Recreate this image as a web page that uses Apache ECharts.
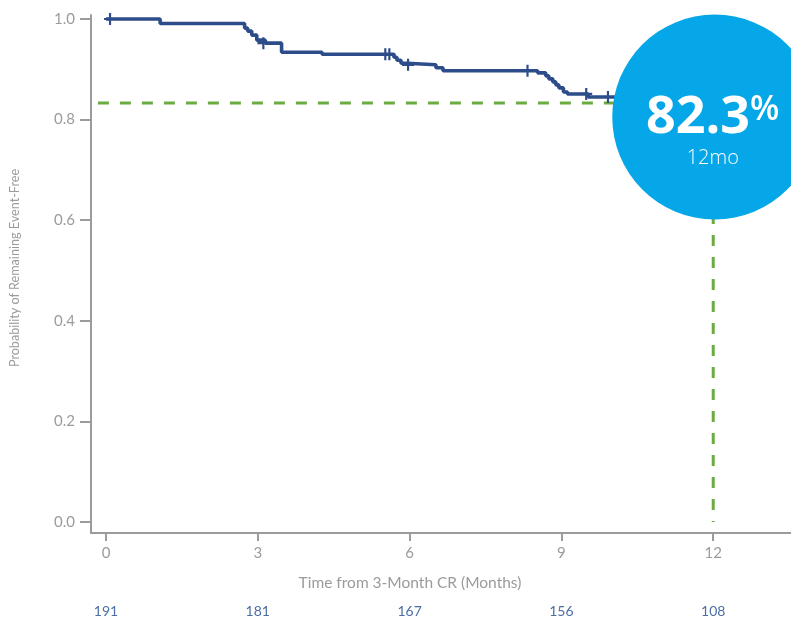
<!DOCTYPE html>
<html>
<head>
<meta charset="utf-8">
<script src="https://cdn.jsdelivr.net/npm/echarts@6/dist/echarts.min.js"></script>
<style>
html,body{margin:0;padding:0;background:#fff;}
#chart{width:791px;height:619px;}
</style>
</head>
<body>
<div id="chart"></div>
<script>
// ---- data ----
const times    = [0, 1.07, 2.74, 2.80, 2.88, 2.98, 3.15, 3.47, 4.27, 5.69, 5.75, 5.83, 5.95, 6.52, 6.66, 8.53, 8.69, 8.75, 8.83, 8.89, 8.95, 9.04, 9.12, 9.53, 10.60, 11.40, 12.30];
const survival = [1.000, 0.991, 0.982, 0.976, 0.968, 0.958, 0.952, 0.934, 0.930, 0.924, 0.918, 0.912, 0.909, 0.903, 0.897, 0.893, 0.887, 0.881, 0.875, 0.869, 0.863, 0.855, 0.851, 0.845, 0.835, 0.823, 0.823];
const censorTimes = [0.08, 3.11, 5.52, 5.60, 5.97, 8.33, 9.49, 9.92];
const censorSurv  = [1.000, 0.952, 0.930, 0.930, 0.909, 0.897, 0.851, 0.845];
const xTicks = [0, 3, 6, 9, 12];
const atRisk = [191, 181, 167, 156, 108];
const yTicks = [0, 0.2, 0.4, 0.6, 0.8, 1.0];
const landmarkMonth = 12;
const landmarkValue = 0.833;
const landmarkStart = -0.16;
const badgeCenter = [12.03, 0.805];
const badgeValue = '82.3';
const badgeUnit = '%';
const badgeLabel = '12mo';
const xTitle = 'Time from 3-Month CR (Months)';
const yTitle = 'Probability of Remaining Event-Free';

// ---- build ----
const kmData = times.map((t, i) => [t, survival[i]]);
const censorData = censorTimes.map((t, i) => [t, censorSurv[i]]);
const gray = '#9b9b9b';
const navy = '#2d4d8a';
const green = '#6cab42';
const font = 'Lato';

const chart = echarts.init(document.getElementById('chart'), null, {renderer: 'canvas'});
chart.setOption({
  animation: false,
  backgroundColor: '#ffffff',
  grid: {left: 89, right: 0, top: 15, bottom: 86, containLabel: false},
  xAxis: [{
    type: 'value', min: -0.296, max: 13.537,
    name: xTitle, nameLocation: 'middle', nameGap: 42,
    nameTextStyle: {color: gray, fontSize: 15.5, fontFamily: font, padding: [0, 62, 0, 0]},
    axisLine: {show: true, onZero: false, lineStyle: {color: gray, width: 2}},
    axisTick: {show: true, inside: false, customValues: xTicks, length: 8, lineStyle: {color: gray, width: 2}},
    axisLabel: {customValues: xTicks, color: gray, fontSize: 15, fontFamily: font, margin: 13},
    splitLine: {show: false}
  }, {
    type: 'value', min: -0.296, max: 13.537, position: 'bottom', offset: 71,
    axisLine: {show: false}, axisTick: {show: false}, splitLine: {show: false},
    axisLabel: {customValues: xTicks, color: '#4d6fa3', fontSize: 14, fontFamily: font, margin: 0,
      formatter: v => { const i = xTicks.indexOf(v); return i >= 0 ? String(atRisk[i]) : ''; }}
  }],
  yAxis: {
    type: 'value', min: -0.022, max: 1.008,
    name: yTitle, nameLocation: 'middle', nameGap: 70,
    nameTextStyle: {color: gray, fontSize: 12.6, fontFamily: font, padding: [0, 0, 0, 12]},
    axisLine: {show: true, onZero: false, lineStyle: {color: gray, width: 2}},
    axisTick: {show: true, inside: false, customValues: yTicks, length: 11, lineStyle: {color: gray, width: 2}},
    axisLabel: {customValues: yTicks, color: gray, fontSize: 15, fontFamily: font, margin: 16,
      formatter: v => v.toFixed(1)},
    splitLine: {show: false}
  },
  series: [
    {
      type: 'line', name: 'landmarkH', z: 1, silent: true, symbol: 'none',
      data: [[landmarkStart, landmarkValue], [landmarkMonth, landmarkValue]],
      lineStyle: {color: green, width: 3, type: [11, 11]}
    },
    {
      type: 'line', name: 'landmarkV', z: 1, silent: true, symbol: 'none',
      data: [[landmarkMonth, landmarkValue], [landmarkMonth, 0]],
      lineStyle: {color: green, width: 3, type: [11, 11]}
    },
    {
      type: 'line', name: 'KM', z: 2, silent: true, step: 'end', symbol: 'none',
      data: kmData, lineStyle: {color: navy, width: 3.6}
    },
    {
      type: 'scatter', name: 'censor', z: 3, silent: true,
      symbol: 'path://M4.5,0h2v4.5h4.5v2h-4.5v4.5h-2v-4.5h-4.5v-2h4.5z', symbolSize: 12,
      itemStyle: {color: navy, opacity: 1}, data: censorData
    },
    {
      type: 'scatter', name: 'badge', z: 10, silent: true, clip: false,
      symbol: 'circle', symbolSize: 205,
      itemStyle: {color: '#05a7e8', opacity: 1},
      data: [badgeCenter],
      label: {
        show: true, position: 'inside', offset: [-2, 16],
        formatter: () => '{big|' + badgeValue + '}{pct|' + badgeUnit + '}\n{sub|' + badgeLabel + '}',
        rich: {
          big: {fontSize: 52, fontWeight: 'bold', color: '#fff', fontFamily: 'Open Sans', lineHeight: 50},
          pct: {fontSize: 34, fontWeight: 600, color: '#fff', fontFamily: 'Open Sans', lineHeight: 50, verticalAlign: 'top', padding: [0,0,14,0]},
          sub: {fontSize: 20, fontWeight: 300, color: '#fff', fontFamily: 'Open Sans', lineHeight: 30, align: 'center'}
        }
      }
    }
  ]
});
</script>
</body>
</html>
